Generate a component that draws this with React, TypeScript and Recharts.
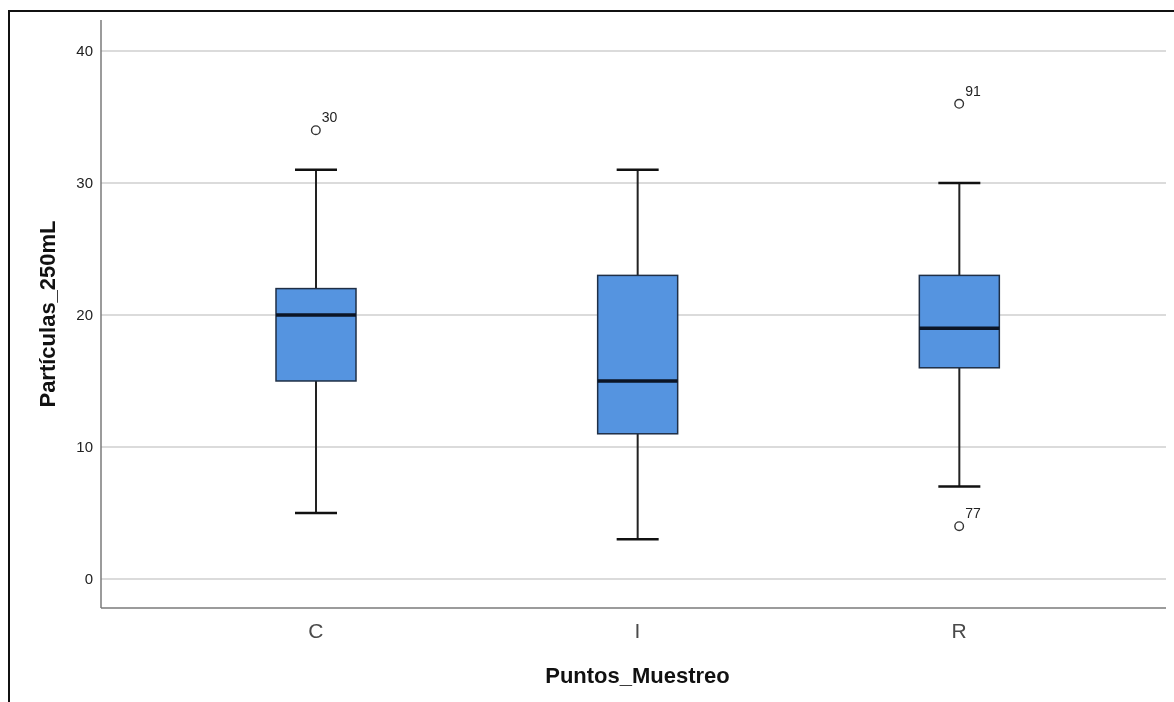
import { ComposedChart, Bar, Scatter, XAxis, YAxis, ReferenceLine } from "recharts"

const categories = ["C", "I", "R"]
const whiskerLow = [5, 3, 7]
const q1 = [15, 11, 16]
const medians = [20, 15, 19]
const q3 = [22, 23, 23]
const whiskerHigh = [31, 31, 30]
const outlierCats = ["C", "R", "R"]
const outlierValues = [34, 36, 4]
const outlierIds = ["30", "91", "77"]
const yTicks = [0, 10, 20, 30, 40]

const data = categories.map((name, i) => ({
  name,
  range: [whiskerLow[i], whiskerHigh[i]],
  q1: q1[i],
  median: medians[i],
  q3: q3[i],
}))

const outliers = outlierCats.map((name, i) => ({
  name,
  value: outlierValues[i],
  id: outlierIds[i],
}))

const font = "'Liberation Sans', Arial, sans-serif"

function BoxShape(props: any) {
  const { x, y, width, height, payload } = props
  const [lo, hi] = payload.range
  const top = Math.min(y, y + height)
  const bottom = Math.max(y, y + height)
  // linear map inside the bar's pixel span, same as the y scale
  const py = (v: number) => bottom - ((v - lo) / (hi - lo)) * (bottom - top)
  const cx = x + width / 2
  const cap = 21
  return (
    <g>
      <line x1={cx} x2={cx} y1={py(hi)} y2={py(payload.q3)} stroke="#222" strokeWidth={2} />
      <line x1={cx} x2={cx} y1={py(payload.q1)} y2={py(lo)} stroke="#222" strokeWidth={2} />
      <line x1={cx - cap} x2={cx + cap} y1={py(hi)} y2={py(hi)} stroke="#111" strokeWidth={2.5} />
      <line x1={cx - cap} x2={cx + cap} y1={py(lo)} y2={py(lo)} stroke="#111" strokeWidth={2.5} />
      <rect
        x={x}
        y={py(payload.q3)}
        width={width}
        height={py(payload.q1) - py(payload.q3)}
        fill="#5594e0"
        stroke="#1f2f46"
        strokeWidth={1.5}
      />
      <line x1={x} x2={x + width} y1={py(payload.median)} y2={py(payload.median)} stroke="#0b1526" strokeWidth={3.5} />
    </g>
  )
}

function OutlierShape(props: any) {
  const { cx, cy, payload } = props
  return (
    <g>
      <circle cx={cx} cy={cy} r={4.3} fill="#fff" stroke="#333" strokeWidth={1.4} />
      <text x={cx + 6} y={cy - 8} fontSize={14} fill="#222" fontFamily={font}>
        {payload.id}
      </text>
    </g>
  )
}

export default function App() {
  return (
    <div style={{ width: 1164, height: 680, paddingTop: 4, paddingLeft: 2 }}>
      {/* frame of the exported picture, cut off at the right and bottom */}
      <div
        style={{
          position: "fixed",
          top: 10,
          left: 8,
          width: 1180,
          height: 710,
          borderTop: "2px solid #111",
          borderLeft: "2px solid #111",
          pointerEvents: "none",
        }}
      />
      <ComposedChart
        width={1164}
        height={680}
        data={data}
        margin={{ top: 8, right: 0, bottom: 54, left: 0 }}
      >
        {yTicks.map((t) => (
          <ReferenceLine key={t} y={t} stroke="#cfcfcf" strokeWidth={1.5} zIndex={-100} />
        ))}
        <XAxis
          dataKey="name"
          allowDuplicatedCategory={false}
          padding={{ left: 54, right: 54 }}
          height={30}
          tickLine={false}
          tickMargin={9}
          axisLine={{ stroke: "#7a7a7a", strokeWidth: 1.5 }}
          tick={{ fontSize: 21, fill: "#4a4a4a", fontFamily: font }}
          label={({ viewBox }: any) => (
            <text
              x={viewBox.x + viewBox.width / 2}
              y={viewBox.y + 67}
              dy="0.35em"
              textAnchor="middle"
              fontSize={22}
              fontWeight="bold"
              fill="#111"
              fontFamily={font}
            >
              Puntos_Muestreo
            </text>
          )}
        />
        <YAxis
          type="number"
          domain={[-2.2, 42.35]}
          ticks={yTicks}
          allowDataOverflow
          width={91}
          tickLine={false}
          axisLine={{ stroke: "#7a7a7a", strokeWidth: 1.5 }}
          tick={{ fontSize: 15, fill: "#222", fontFamily: font }}
          label={({ viewBox }: any) => {
            const lx = viewBox.x + 37
            const ly = viewBox.y + viewBox.height / 2
            return (
              <text
                x={lx}
                y={ly}
                dy="0.35em"
                textAnchor="middle"
                transform={`rotate(-90, ${lx}, ${ly})`}
                fontSize={22}
                fontWeight="bold"
                fill="#111"
                fontFamily={font}
              >
                Partículas_250mL
              </text>
            )
          }}
        />
        <Bar dataKey="range" barSize={80} shape={BoxShape} isAnimationActive={false} />
        <Scatter data={outliers} dataKey="value" shape={OutlierShape} isAnimationActive={false} />
      </ComposedChart>
    </div>
  )
}
